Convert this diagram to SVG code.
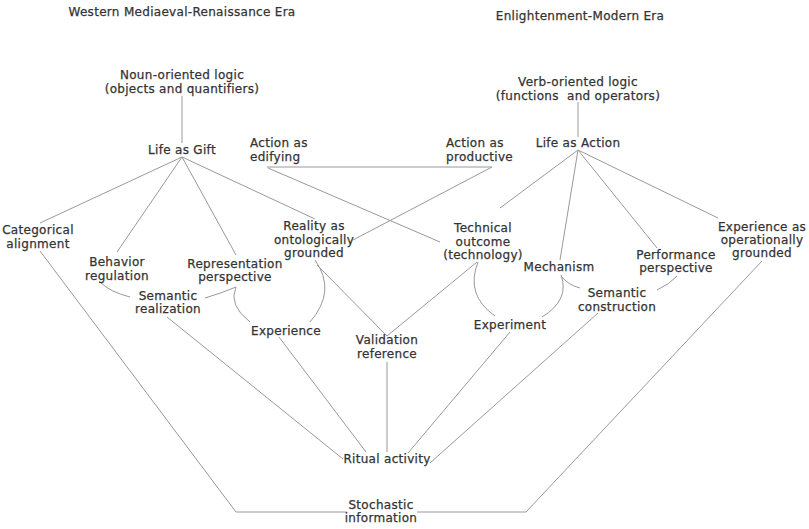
<svg xmlns="http://www.w3.org/2000/svg" width="809" height="529" viewBox="0 0 809 529">
<style>
text{font-family:"DejaVu Sans",Verdana,sans-serif;font-size:12px;fill:#333;stroke:#333;stroke-width:0.25;letter-spacing:0.3px;text-anchor:middle;white-space:pre}
.l{text-anchor:start}
#connectors path{fill:none;stroke:#999;stroke-width:1}
</style>
<rect width="809" height="529" fill="#fff"/>
<g id="connectors">
<path d="M182,96 V143"/>
<path d="M182,157 L40,223 M182,157 L117,252 M182,157 L236,255 M182,157 L315,219"/>
<path d="M40,251 L236,512 H347"/>
<path d="M417,512 H526 L762,261"/>
<path d="M167,317 L343,459"/>
<path d="M279,337 L366,452"/>
<path d="M387,362 V452"/>
<path d="M510,332 L408,453"/>
<path d="M598,313 L430,463"/>
<path d="M317,265 L387,336"/>
<path d="M477,262 L387,336"/>
<path d="M267,167 H492 L353,240"/>
<path d="M268,168 L440,242"/>
<path d="M578,102 V137"/>
<path d="M578,150 L500,208 M578,150 L560,260 M578,150 L657,248 M578,150 L718,218"/>
<path d="M100,282 Q110,292 130,297"/>
<path d="M236,287 Q222,293 205,298"/>
<path d="M236,287 Q228,305 250,322"/>
<path d="M315,260 Q337,291 310,322"/>
<path d="M478,262 Q465,295 495,316"/>
<path d="M561,275 Q570,300 542,317"/>
<path d="M561,276 Q568,285 580,288"/>
<path d="M677,276 Q670,284 657,290"/>
</g>
<g id="title-western"><text x="182" y="16">Western Mediaeval-Renaissance Era</text></g>
<g id="title-enlightenment"><text x="580" y="20">Enlightenment-Modern Era</text></g>
<g id="noun-logic"><text x="182" y="79">Noun-oriented logic</text><text x="182" y="93">(objects and quantifiers)</text></g>
<g id="life-gift"><text x="182" y="154">Life as Gift</text></g>
<g id="action-edifying"><text class="l" x="250" y="147">Action as</text><text class="l" x="250" y="161">edifying</text></g>
<g id="action-productive"><text class="l" x="446" y="147">Action as</text><text class="l" x="446" y="161">productive</text></g>
<g id="verb-logic"><text x="578" y="86">Verb-oriented logic</text><text x="578" y="100">(functions  and operators)</text></g>
<g id="life-action"><text x="578" y="147">Life as Action</text></g>
<g id="categorical"><text x="38" y="234">Categorical</text><text x="38" y="248">alignment</text></g>
<g id="behavior"><text x="117" y="266">Behavior</text><text x="117" y="280">regulation</text></g>
<g id="semantic-realization"><text x="168" y="300">Semantic</text><text x="168" y="313">realization</text></g>
<g id="representation"><text x="235" y="268">Representation</text><text x="235" y="281">perspective</text></g>
<g id="experience"><text x="286" y="335">Experience</text></g>
<g id="reality"><text x="314" y="230">Reality as</text><text x="314" y="244">ontologically</text><text x="314" y="257">grounded</text></g>
<g id="validation"><text x="387" y="344">Validation</text><text x="387" y="358">reference</text></g>
<g id="technical"><text x="483" y="232">Technical</text><text x="483" y="246">outcome</text><text x="483" y="259">(technology)</text></g>
<g id="mechanism"><text x="559" y="271">Mechanism</text></g>
<g id="experiment"><text x="510" y="329">Experiment</text></g>
<g id="semantic-construction"><text x="617" y="297">Semantic</text><text x="617" y="311">construction</text></g>
<g id="performance"><text x="676" y="259">Performance</text><text x="676" y="272">perspective</text></g>
<g id="experience-op"><text x="762" y="231">Experience as</text><text x="762" y="244">operationally</text><text x="762" y="257">grounded</text></g>
<g id="ritual"><text x="387" y="463">Ritual activity</text></g>
<g id="stochastic"><text x="381" y="509">Stochastic</text><text x="381" y="522">information</text></g>
</svg>
